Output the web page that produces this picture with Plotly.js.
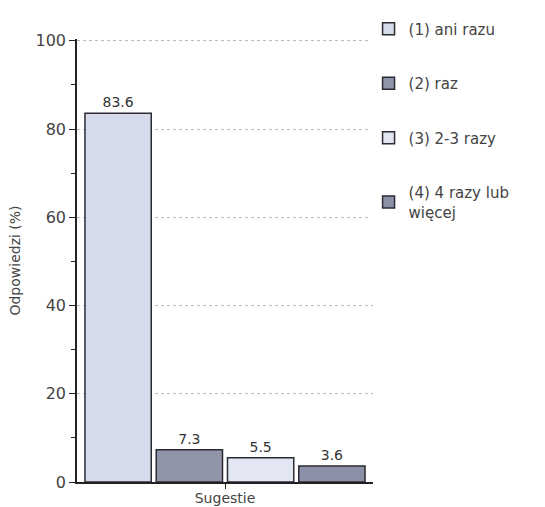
<!DOCTYPE html>
<html><head><meta charset="utf-8">
<script src="https://cdn.plot.ly/plotly-3.0.1.min.js"></script>
<style>body{margin:0;background:#fff}#c{width:545px;height:507px}</style>
</head><body><div id="c"></div>
<script>
const category = ['Sugestie'];
const seriesNames = ['(1) ani razu', '(2) raz', '(3) 2-3 razy', '(4) 4 razy lub<br>więcej'];
const values = [83.6, 7.3, 5.5, 3.6];
const labels = ['83.6', '7.3', '5.5', '3.6'];
const colors = ['#d6dbec', '#8f94a8', '#e3e7f3', '#8b90a6'];

const traces = seriesNames.map((n, i) => ({
  type: 'bar', name: n, x: category, y: [values[i]],
  text: [labels[i]], textposition: 'outside', cliponaxis: false,
  textfont: {family: 'DejaVu Sans', size: 14, color: '#333'},
  marker: {color: colors[i], line: {color: '#2b2b33', width: 1.5}},
  legendgroup: 'g' + i
}));

Plotly.newPlot('c', traces, {
  width: 545, height: 507,
  margin: {l: 77, r: 172, t: 34, b: 25},
  paper_bgcolor: '#fff', plot_bgcolor: '#fff',
  barmode: 'group', bargap: 0.037, bargroupgap: 0.07,
  showlegend: true,
  legend: {x: 0.985, y: 1.06, xanchor: 'left', yanchor: 'top', tracegroupgap: 32,
    traceorder: 'grouped', font: {family: 'DejaVu Sans', size: 15, color: '#444'},
    itemwidth: 30},
  xaxis: {showline: true, linecolor: '#222', linewidth: 1.5, ticks: 'outside', ticklen: 5,
    tickcolor: '#222', tickfont: {family: 'DejaVu Sans', size: 14, color: '#444'},
    ticklabelstandoff: -3, automargin: false, showgrid: false},
  yaxis: {range: [0, 100.4], tickvals: [0, 20, 40, 60, 80, 100], showline: true, linecolor: '#222', linewidth: 1.5,
    ticks: 'outside', ticklen: 6, tickcolor: '#222',
    minor: {tickvals: [10, 30, 50, 70, 90], ticks: 'outside', ticklen: 4, tickcolor: '#222', showgrid: false},
    tickfont: {family: 'DejaVu Sans', size: 16, color: '#444'},
    showgrid: true, gridcolor: '#bbb', griddash: 'dot', gridwidth: 1, zeroline: false,
    title: {text: 'Odpowiedzi (%)', font: {family: 'DejaVu Sans', size: 14, color: '#444'}, standoff: 12},
    automargin: false}
}, {displayModeBar: false});
</script></body></html>
